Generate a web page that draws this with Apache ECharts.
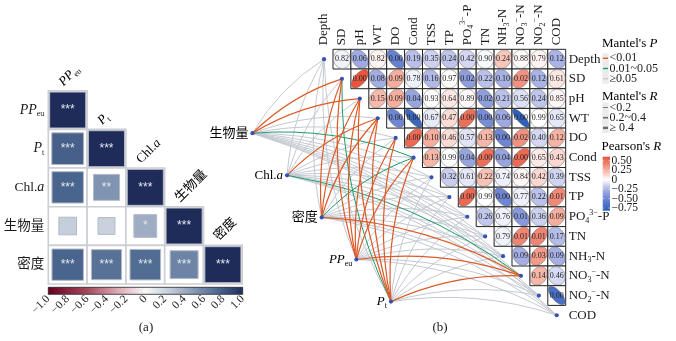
<!DOCTYPE html>
<html><head><meta charset="utf-8">
<script src="https://cdn.jsdelivr.net/npm/echarts@6.0.0/dist/echarts.min.js"></script>
<style>html,body{margin:0;padding:0;background:#fff}#c{width:676px;height:341px}</style>
</head><body><div id="c"></div>
<script>
// ================= DATA =================
// Panel (a): correlation among response variables (lower triangle incl. diagonal)
const corrVars = ['PPeu', 'Pt', 'Chl.a', '生物量', '密度'];
const corrR = [
  [1],
  [0.78, 1],
  [0.76, 0.52, 1],
  [0.24, 0.22, 0.40, 1],
  [0.76, 0.70, 0.72, 0.60, 1]
];
const corrStars = [
  ['***'],
  ['***', '***'],
  ['***', '**', '***'],
  ['', '', '*', '***'],
  ['***', '***', '***', '***', '***']
];
// Panel (b): environmental variables, Pearson r and p (upper triangle, row i vs columns i+1..)
const envVars = ['Depth', 'SD', 'pH', 'WT', 'DO', 'Cond', 'TSS', 'TP', 'PO4', 'TN', 'NH3', 'NO3', 'NO2', 'COD'];
const pearsonP = [
  [0.82, 0.06, 0.82, 0.00, 0.19, 0.35, 0.24, 0.42, 0.90, 0.24, 0.88, 0.79, 0.12],
  [0.00, 0.08, 0.09, 0.78, 0.16, 0.97, 0.02, 0.22, 0.10, 0.02, 0.12, 0.61],
  [0.15, 0.09, 0.04, 0.93, 0.64, 0.89, 0.02, 0.21, 0.56, 0.24, 0.85],
  [0.00, 0.00, 0.67, 0.47, 0.00, 0.00, 0.06, 0.00, 0.99, 0.65],
  [0.00, 0.10, 0.46, 0.57, 0.13, 0.00, 0.02, 0.40, 0.12],
  [0.13, 0.99, 0.04, 0.00, 0.04, 0.00, 0.65, 0.43],
  [0.32, 0.61, 0.22, 0.74, 0.84, 0.42, 0.39],
  [0.00, 0.99, 0.00, 0.77, 0.22, 0.01],
  [0.26, 0.76, 0.01, 0.36, 0.09],
  [0.79, 0.01, 0.01, 0.17],
  [0.09, 0.03, 0.09],
  [0.14, 0.46],
  [0.00]
];
const pearsonR = [
  [-0.04, -0.30, 0.04, -0.55, -0.21, -0.15, -0.19, -0.13, -0.02, 0.19, 0.02, 0.04, -0.25],
  [0.60, -0.28, 0.27, -0.05, -0.23, 0.01, -0.37, -0.20, -0.26, 0.37, -0.25, 0.08],
  [0.23, 0.27, -0.33, 0.01, 0.08, 0.02, -0.37, -0.20, -0.10, -0.19, 0.03],
  [-0.50, -0.75, -0.07, 0.12, 0.50, -0.47, -0.30, -0.80, 0.00, -0.08],
  [0.52, 0.27, 0.12, -0.09, 0.24, -0.50, 0.37, -0.13, 0.25],
  [0.24, 0.00, -0.33, 0.50, -0.33, 0.52, 0.07, 0.13],
  [-0.16, -0.08, 0.20, -0.05, 0.03, 0.13, -0.14],
  [0.52, 0.00, -0.50, -0.05, -0.20, 0.40],
  [-0.18, -0.05, -0.40, -0.15, 0.27],
  [-0.04, 0.42, 0.42, -0.22],
  [-0.27, 0.34, -0.27],
  [0.24, -0.12],
  [-0.68]
];
// Mantel test between response variables and each env variable
const speciesVars = ['生物量', 'Chl.a', '密度', 'PPeu', 'Pt'];
// class 0: <0.01, 1: 0.01~0.05, 2: >=0.05   (columns follow envVars)
const mantelPClass = [
  [2, 0, 0, 2, 2, 1, 2, 2, 2, 2, 2, 2, 2, 2],
  [2, 2, 2, 0, 2, 2, 2, 2, 2, 2, 2, 1, 2, 2],
  [2, 0, 0, 0, 2, 1, 2, 2, 2, 2, 2, 0, 2, 2],
  [2, 0, 0, 0, 0, 0, 2, 2, 2, 2, 2, 0, 2, 2],
  [2, 1, 0, 0, 0, 0, 2, 2, 2, 2, 2, 0, 2, 2]
];
// class 0: <0.2, 1: 0.2~0.4, 2: >=0.4
const mantelRClass = [
  [0, 1, 1, 0, 0, 0, 0, 0, 0, 0, 0, 0, 0, 0],
  [0, 0, 0, 1, 0, 0, 0, 0, 0, 0, 0, 0, 0, 0],
  [0, 1, 1, 1, 0, 0, 0, 0, 0, 0, 0, 1, 0, 0],
  [0, 1, 1, 1, 1, 1, 0, 0, 0, 0, 0, 1, 0, 0],
  [0, 0, 1, 1, 1, 1, 0, 0, 0, 0, 0, 1, 0, 0]
];
const mantelPLabels = ['<0.01', '0.01~0.05', '≥0.05'];
const mantelRLabels = ['<0.2', '0.2~0.4', '≥ 0.4'];
const pearsonTicks = [0.5, 0.25, 0, -0.25, -0.5, -0.75];
const pearsonRange = [-0.82, 0.61];

// ================= STYLE =================
const FONT = '"Liberation Serif","Times New Roman","Noto Sans CJK SC",serif';
const TXT = '#1a1a1a';
const corrStops = [[-1, '#67001f'], [-0.6, '#a4475a'], [-0.3, '#d9a6b0'], [0, '#f7f7f7'], [0.25, '#c3ccda'], [0.5, '#8598b5'], [0.75, '#4b6790'], [1, '#1f2c5a']];
const pearsonStops = [[-0.82, '#2c5eb8'], [-0.5, '#6f87d3'], [-0.25, '#aab3e5'], [0, '#ffffff'], [0.25, '#f6b3a4'], [0.61, '#e8513a']];
const P_COLORS = ['#dc5a28', '#1f9a68', '#c4c9d2'];
const R_WIDTHS = [1.0, 1.2, 1.8];
const CURV = 0.12;

function hex(h) { return [1, 3, 5].map(k => parseInt(h.substr(k, 2), 16)); }
function lerpColor(stops, v) {
  if (v <= stops[0][0]) return stops[0][1];
  if (v >= stops[stops.length - 1][0]) return stops[stops.length - 1][1];
  for (let k = 0; k < stops.length - 1; k++) {
    const a = stops[k], b = stops[k + 1];
    if (v >= a[0] && v <= b[0]) {
      const t = (v - a[0]) / (b[0] - a[0]);
      const ca = hex(a[1]), cb = hex(b[1]);
      return 'rgb(' + [0, 1, 2].map(q => Math.round(ca[q] + (cb[q] - ca[q]) * t)).join(',') + ')';
    }
  }
}
const RICH = {
  n: { fontFamily: FONT, fontSize: 13, color: TXT, lineHeight: 16, verticalAlign: 'middle' },
  i: { fontFamily: FONT, fontSize: 13, fontStyle: 'italic', color: TXT, lineHeight: 16, verticalAlign: 'middle' },
  s: { fontFamily: FONT, fontSize: 8, color: TXT, lineHeight: 8, verticalAlign: 'bottom' },
  p: { fontFamily: FONT, fontSize: 8, color: TXT, lineHeight: 8, verticalAlign: 'top' }
};
function rich(name) {
  const m = {
    'PPeu': '{i|PP}{s|eu}', 'Pt': '{i|P}{s|t}', 'Chl.a': '{n|Chl.}{i|a}',
    'PO4': '{n|PO}{s|4}{p|3−}{n|-P}', 'NH3': '{n|NH}{s|3}{n|-N}',
    'NO3': '{n|NO}{s|3}{p|−}{n|-N}', 'NO2': '{n|NO}{s|2}{p|−}{n|-N}'
  };
  return m[name] || ('{n|' + name + '}');
}
function gradientStops(stops, lo, hi, reverse) {
  return stops.map(s => ({ offset: reverse ? (hi - s[0]) / (hi - lo) : (s[0] - lo) / (hi - lo), color: s[1] }))
    .sort((a, b) => a.offset - b.offset);
}
// layout of response-variable nodes in panel (b), in heat-map cell units
function speciesPos(k) { return [-4.0 + 1.935 * k, 3.76 + 2.137 * k]; }

// ================= SERIES DATA =================
const corrData = [];
corrR.forEach((row, i) => row.forEach((r, j) => corrData.push([j, i, r])));
const corrStarList = [];
corrStars.forEach(row => row.forEach(s => corrStarList.push(s)));
const heatData = [];
pearsonR.forEach((row, i) => row.forEach((r, k) => heatData.push([i + 1 + k, i, r, pearsonP[i][k]])));
const linkData = [];
[2, 1, 0].forEach(cls => {
  mantelPClass.forEach((row, s) => row.forEach((pc, e) => { if (pc === cls) linkData.push([s, e, pc, mantelRClass[s][e]]); }));
});
const nodeData = envVars.map((n, i) => [i, i, 0, i]).concat(speciesVars.map((n, k) => speciesPos(k).concat([1, k])));

// ================= RENDERERS =================
function renderCorr(params, api) {
  const x = api.value(0), y = api.value(1), r = api.value(2);
  const c = api.coord([x, y]); const sz = api.size([1, 1]);
  const w = sz[0], h = sz[1];
  const f = Math.sqrt(Math.abs(r)) * 0.93;
  const star = corrStarList[params.dataIndex];
  return {
    type: 'group', children: [
      { type: 'rect', shape: { x: c[0] - w / 2, y: c[1] - h / 2, width: w, height: h }, style: { fill: '#fff', stroke: '#cbced4', lineWidth: 1.6 } },
      { type: 'rect', shape: { x: c[0] - w * f / 2, y: c[1] - h * f / 2, width: w * f, height: h * f }, style: { fill: lerpColor(corrStops, r), stroke: '#b4bac4', lineWidth: 1 } },
      { type: 'text', x: c[0], y: c[1], style: { text: star, fontSize: 12, fontFamily: 'Liberation Sans, sans-serif', fill: '#e3e7ee', align: 'center', verticalAlign: 'middle' } }
    ]
  };
}
function renderCorrLabel(params, api) {
  const i = api.value(0);
  const c = api.coord([i, i]); const sz = api.size([1, 1]);
  return {
    type: 'text', x: c[0] - 1, y: c[1] - sz[1] / 2 - 1, rotation: Math.PI / 4,
    style: { text: rich(corrVars[i]), rich: RICH, align: 'left', verticalAlign: 'bottom' }
  };
}
function renderCell(params, api) {
  const j = api.value(0), i = api.value(1), r = api.value(2), p = api.value(3);
  const c = api.coord([j, i]); const sz = api.size([1, 1]);
  const hw = sz[0] / 2, hh = sz[1] / 2;
  const d = Math.acos(Math.max(-1, Math.min(1, r)));
  const pts = [];
  for (let t = 0; t < 60; t++) {
    const a = t / 60 * 2 * Math.PI;
    pts.push([c[0] + Math.cos(a + d / 2) * hw * 0.94, c[1] - Math.cos(a - d / 2) * hh * 0.94]);
  }
  return {
    type: 'group', children: [
      { type: 'rect', shape: { x: c[0] - hw, y: c[1] - hh, width: 2 * hw, height: 2 * hh }, style: { fill: '#fff', stroke: '#222', lineWidth: 1 } },
      { type: 'polygon', shape: { points: pts }, style: { fill: lerpColor(pearsonStops, r), stroke: '#666', lineWidth: 0.5 } },
      { type: 'text', x: c[0], y: c[1], style: { text: p.toFixed(2), fontSize: 8, fontFamily: FONT, fill: '#222', align: 'center', verticalAlign: 'middle' } }
    ]
  };
}
function renderLink(params, api) {
  const s = api.value(0), e = api.value(1), pc = api.value(2), rc = api.value(3);
  const p1 = api.coord(speciesPos(s)); const p2 = api.coord([e, e]);
  const dx = p2[0] - p1[0], dy = p2[1] - p1[1]; const L = Math.hypot(dx, dy);
  const nx = dy / L, ny = -dx / L;
  const cx = (p1[0] + p2[0]) / 2 + nx * CURV * L, cy = (p1[1] + p2[1]) / 2 + ny * CURV * L;
  return {
    type: 'bezierCurve',
    shape: { x1: p1[0], y1: p1[1], x2: p2[0], y2: p2[1], cpx1: cx, cpy1: cy },
    style: { stroke: P_COLORS[pc], lineWidth: R_WIDTHS[rc], fill: 'none' }
  };
}
function renderNode(params, api) {
  const c = api.coord([api.value(0), api.value(1)]);
  const kind = api.value(2);
  const ch = [{ type: 'circle', shape: { cx: c[0], cy: c[1], r: 2.1 }, style: { fill: '#3452b4' } }];
  if (kind === 1) {
    const k = api.value(3);
    ch.push({ type: 'text', x: c[0] - 4, y: c[1], style: { text: rich(speciesVars[k]), rich: RICH, align: 'right', verticalAlign: 'middle' } });
  }
  return { type: 'group', children: ch };
}

// ================= GRAPHIC (legends, colourbars) =================
const graphic = [];
graphic.push({ type: 'rect', shape: { x: 48.3, y: 287.3, width: 194.4, height: 7 },
  style: { fill: new echarts.graphic.LinearGradient(0, 0, 1, 0, gradientStops(corrStops, -1, 1, false)), stroke: '#222', lineWidth: 0.8 }, z: 1 });
graphic.push({ type: 'text', x: 146, y: 328, style: { text: '(a)', font: '13px ' + FONT, fill: TXT, align: 'center', verticalAlign: 'middle' } });
graphic.push({ type: 'text', x: 440, y: 328, style: { text: '(b)', font: '13px ' + FONT, fill: TXT, align: 'center', verticalAlign: 'middle' } });
graphic.push({ type: 'text', x: 602, y: 43.5, style: { text: "{n|Mantel's }{i|P}", rich: RICH, verticalAlign: 'middle' } });
graphic.push({ type: 'rect', shape: { x: 602.3, y: 53.3, width: 6.5, height: 30.5 }, style: { fill: '#ebebeb' } });
mantelPLabels.forEach((t, k) => {
  const y = 58.3 + k * 10.2;
  graphic.push({ type: 'line', shape: { x1: 603, y1: y, x2: 608, y2: y }, style: { stroke: P_COLORS[k], lineWidth: 1.4 } });
  graphic.push({ type: 'text', x: 609.5, y: y, style: { text: t, font: '12px ' + FONT, fill: TXT, verticalAlign: 'middle' } });
});
graphic.push({ type: 'text', x: 602, y: 96.7, style: { text: "{n|Mantel's }{i|R}", rich: RICH, verticalAlign: 'middle' } });
graphic.push({ type: 'rect', shape: { x: 602.3, y: 102.5, width: 6.5, height: 30.5 }, style: { fill: '#ebebeb' } });
mantelRLabels.forEach((t, k) => {
  const y = 107.5 + k * 10.2;
  graphic.push({ type: 'line', shape: { x1: 603, y1: y, x2: 608, y2: y }, style: { stroke: '#6b6b6b', lineWidth: [0.9, 1.6, 2.4][k] } });
  graphic.push({ type: 'text', x: 609.5, y: y, style: { text: t, font: '12px ' + FONT, fill: TXT, verticalAlign: 'middle' } });
});
graphic.push({ type: 'text', x: 601.5, y: 146.7, style: { text: "{n|Pearson's }{i|R}", rich: RICH, verticalAlign: 'middle' } });
const pbTop = 156.7, pbH = 54, pbPx = pbH / (pearsonRange[1] - pearsonRange[0]);
graphic.push({ type: 'rect', shape: { x: 602.7, y: pbTop, width: 7.3, height: pbH },
  style: { fill: new echarts.graphic.LinearGradient(0, 0, 0, 1, gradientStops(pearsonStops, pearsonRange[0], pearsonRange[1], true)) } });
pearsonTicks.forEach(v => {
  const y = pbTop + (pearsonRange[1] - v) * pbPx;
  graphic.push({ type: 'line', shape: { x1: 602.7, y1: y, x2: 604.2, y2: y }, style: { stroke: '#fff', lineWidth: 0.6 } });
  graphic.push({ type: 'line', shape: { x1: 608.5, y1: y, x2: 610, y2: y }, style: { stroke: '#fff', lineWidth: 0.6 } });
  const lab = v === 0 ? '0' : (v < 0 ? '−' : '') + Math.abs(v).toFixed(2);
  graphic.push({ type: 'text', x: 611.5, y: y, style: { text: lab, font: '11.5px ' + FONT, fill: TXT, verticalAlign: 'middle' } });
});

// ================= OPTION =================
const hideAxis = { axisLine: { show: false }, axisTick: { show: false }, splitLine: { show: false } };
const option = {
  animation: false,
  backgroundColor: '#fff',
  grid: [
    { left: 48.3, top: 90.7, width: 194, height: 193.3 },
    { left: 315.1, top: 49.3, width: 250.6, height: 275.8 },
    { left: 315.1, top: 49.3, width: 250.6, height: 275.8 },
    { left: 48.3, top: 287.3, width: 194.4, height: 7 }
  ],
  xAxis: [
    Object.assign({ type: 'category', gridIndex: 0, data: corrVars, axisLabel: { show: false } }, hideAxis),
    Object.assign({ type: 'category', gridIndex: 1, data: envVars, position: 'top',
      axisLabel: { rotate: -90, margin: 4, formatter: v => rich(v), rich: RICH } }, hideAxis),
    { type: 'value', gridIndex: 2, min: -0.5, max: 13.5, show: false },
    { type: 'value', gridIndex: 3, min: -1, max: 1, interval: 0.2, position: 'bottom',
      axisLine: { show: false }, splitLine: { show: false },
      axisTick: { show: true, inside: true, length: 2, lineStyle: { color: '#fff', width: 0.6 } },
      axisLabel: { rotate: 45, margin: 3, fontFamily: FONT, fontSize: 11.5, color: TXT,
        formatter: v => Math.abs(v) < 1e-9 ? '0' : (v < 0 ? '−' : '') + Math.abs(v).toFixed(1) } }
  ],
  yAxis: [
    Object.assign({ type: 'category', gridIndex: 0, data: corrVars, inverse: true,
      axisLabel: { margin: 4, formatter: v => rich(v), rich: Object.assign({}, RICH, { i: Object.assign({}, RICH.i, { fontSize: 14 }), n: Object.assign({}, RICH.n, { fontSize: 13.5 }) }) } }, hideAxis),
    Object.assign({ type: 'category', gridIndex: 1, data: envVars, inverse: true, position: 'right',
      axisLabel: { margin: 3, formatter: v => rich(v), rich: RICH } }, hideAxis),
    { type: 'value', gridIndex: 2, min: -0.5, max: 13.5, inverse: true, show: false },
    { type: 'value', gridIndex: 3, min: 0, max: 1, show: false }
  ],
  graphic: { elements: graphic },
  series: [
    { type: 'custom', xAxisIndex: 0, yAxisIndex: 0, data: corrData, renderItem: renderCorr, clip: false, z: 2 },
    { type: 'custom', xAxisIndex: 0, yAxisIndex: 0, data: corrVars.map((n, i) => [i, i]), renderItem: renderCorrLabel, clip: false, z: 3 },
    { type: 'custom', xAxisIndex: 2, yAxisIndex: 2, data: linkData, renderItem: renderLink, clip: false, z: 2 },
    { type: 'custom', xAxisIndex: 1, yAxisIndex: 1, data: heatData, renderItem: renderCell, clip: false, z: 3 },
    { type: 'custom', xAxisIndex: 2, yAxisIndex: 2, data: nodeData, renderItem: renderNode, clip: false, z: 4 }
  ]
};
const chart = echarts.init(document.getElementById('c'), null, { renderer: 'canvas', width: 676, height: 341 });
chart.setOption(option);
</script></body></html>
